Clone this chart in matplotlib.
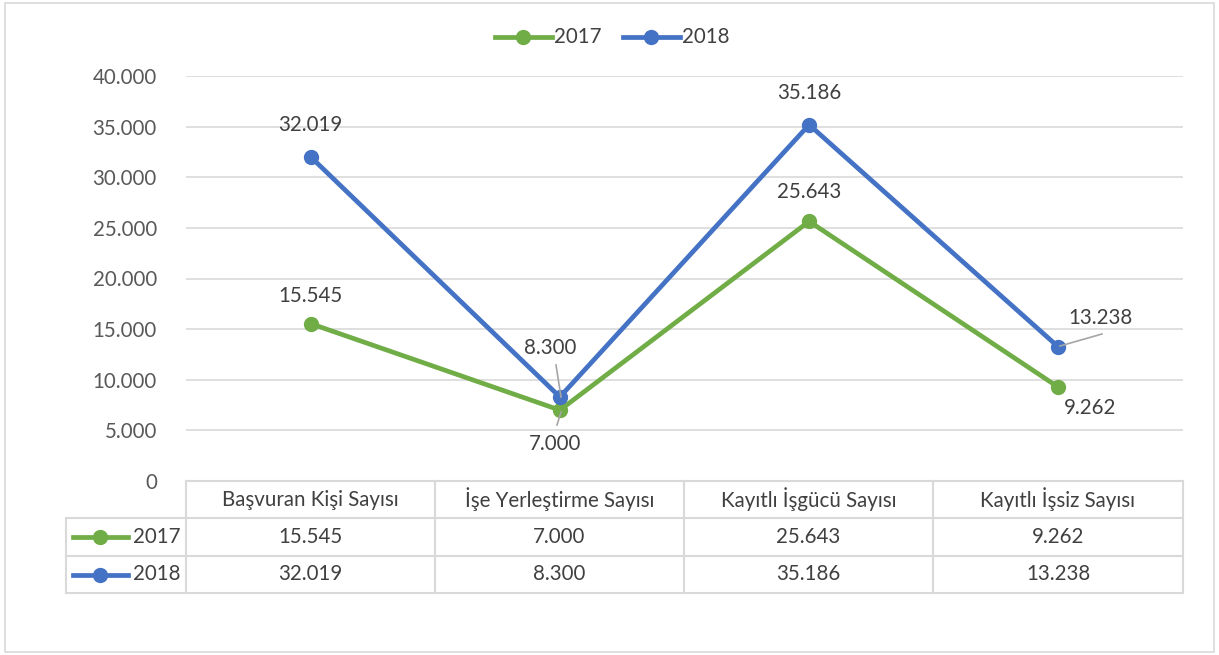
import matplotlib
matplotlib.use("Agg")
import matplotlib.pyplot as plt
from matplotlib.lines import Line2D
from matplotlib.patches import Rectangle

plt.rcParams['font.family'] = ['Lato', 'DejaVu Sans']

categories = ["Başvuran Kişi Sayısı", "İşe Yerleştirme Sayısı", "Kayıtlı İşgücü Sayısı", "Kayıtlı İşsiz Sayısı"]
years = ["2017", "2018"]
values_2017 = [15545, 7000, 25643, 9262]
values_2018 = [32019, 8300, 35186, 13238]
yticks = [0, 5000, 10000, 15000, 20000, 25000, 30000, 35000, 40000]


def fmt(v):
    return f"{v:,.0f}".replace(",", ".")


W, H = 1219, 655
fig = plt.figure(figsize=(W / 100, H / 100), dpi=100)


def fx(px):
    return px / W


def fy(py):
    return 1 - py / H


GREEN = "#70AD47"
BLUE = "#4472C4"
GRID = "#D9D9D9"
TXT = "#404040"
FS = 14.8

# outer border
fig.add_artist(Rectangle((fx(5), fy(652)), fx(1214) - fx(5), fy(3) - fy(652),
                         transform=fig.transFigure, fill=False, edgecolor="#D9D9D9", lw=1.2))

L, R, T, B = 186, 1183, 76, 481
ax = fig.add_axes([fx(L), fy(B), fx(R) - fx(L), fy(T) - fy(B)])
ax.set_xlim(-0.5, 3.5)
ax.set_ylim(0, 40000)
for s in ax.spines.values():
    s.set_visible(False)
ax.set_yticks(yticks)
ax.set_yticklabels([fmt(v) for v in yticks], fontsize=FS, color="#595959")
ax.tick_params(axis='y', length=0, pad=21)
ax.set_xticks([])
ax.grid(axis='y', color=GRID, lw=1.2)
ax.set_axisbelow(True)

x = list(range(len(categories)))
ax.plot(x, values_2017, color=GREEN, lw=3.4, marker='o', ms=10, clip_on=False, zorder=3)
ax.plot(x, values_2018, color=BLUE, lw=3.4, marker='o', ms=10, clip_on=False, zorder=4)

# data labels (offsets in pixels)
off_2017 = [(0, 28), (-5, -34), (0, 29), (32, -21)]
off_2018 = [(0, 32), (-10, 49), (0, 32), (42, 29)]
for xi, v, (dx, dy) in zip(x, values_2017, off_2017):
    ax.annotate(fmt(v), (xi, v), xytext=(dx, dy), textcoords='offset pixels',
                ha='center', va='center', fontsize=FS, color=TXT, zorder=6)
for xi, v, (dx, dy) in zip(x, values_2018, off_2018):
    ax.annotate(fmt(v), (xi, v), xytext=(dx, dy), textcoords='offset pixels',
                ha='center', va='center', fontsize=FS, color=TXT, zorder=6)

# leader lines
leader = dict(color="#A6A6A6", lw=1.2, transform=fig.transFigure, zorder=5)
fig.add_artist(Line2D([fx(561), fx(556)], [fy(397), fy(365)], **leader))
fig.add_artist(Line2D([fx(561), fx(557)], [fy(412), fy(425)], **leader))
fig.add_artist(Line2D([fx(1060), fx(1102)], [fy(346), fy(334)], **leader))


# legend at top
def legend_item(x0, color, label):
    fig.add_artist(Line2D([fx(x0), fx(x0 + 57)], [fy(37), fy(37)], color=color, lw=3.4,
                          transform=fig.transFigure))
    fig.add_artist(Line2D([fx(x0 + 28)], [fy(37)], color=color, marker='o', ms=10,
                          transform=fig.transFigure))
    fig.text(fx(x0 + 59), fy(37), label, ha='left', va='center', fontsize=FS, color=TXT)


legend_item(495, GREEN, years[0])
legend_item(623, BLUE, years[1])

# data table
tl = dict(color=GRID, lw=1.5, transform=fig.transFigure)
col_x = [186, 435, 684, 933, 1183]
rows_y = [481, 518, 556, 593]
fig.add_artist(Line2D([fx(186), fx(1183)], [fy(481), fy(481)], **tl))
for yy in rows_y[1:]:
    fig.add_artist(Line2D([fx(66), fx(1183)], [fy(yy), fy(yy)], **tl))
for xx in col_x:
    fig.add_artist(Line2D([fx(xx), fx(xx)], [fy(481), fy(593)], **tl))
fig.add_artist(Line2D([fx(66), fx(66)], [fy(518), fy(593)], **tl))

for xi, cat in zip(x, categories):
    xc = (col_x[xi] + col_x[xi + 1]) / 2
    fig.text(fx(xc), fy(499.5), cat, ha='center', va='center', fontsize=FS, color=TXT)
    fig.text(fx(xc), fy(537), fmt(values_2017[xi]), ha='center', va='center', fontsize=FS, color=TXT)
    fig.text(fx(xc), fy(574.5), fmt(values_2018[xi]), ha='center', va='center', fontsize=FS, color=TXT)

for (yy, color, label) in [(537, GREEN, years[0]), (574.5, BLUE, years[1])]:
    fig.add_artist(Line2D([fx(73), fx(128)], [fy(yy), fy(yy)], color=color, lw=3.4,
                          transform=fig.transFigure))
    fig.add_artist(Line2D([fx(100)], [fy(yy)], color=color, marker='o', ms=10,
                          transform=fig.transFigure))
    fig.text(fx(181), fy(yy), label, ha='right', va='center', fontsize=FS, color=TXT)

fig.savefig("out.png", dpi=100, facecolor="white")
